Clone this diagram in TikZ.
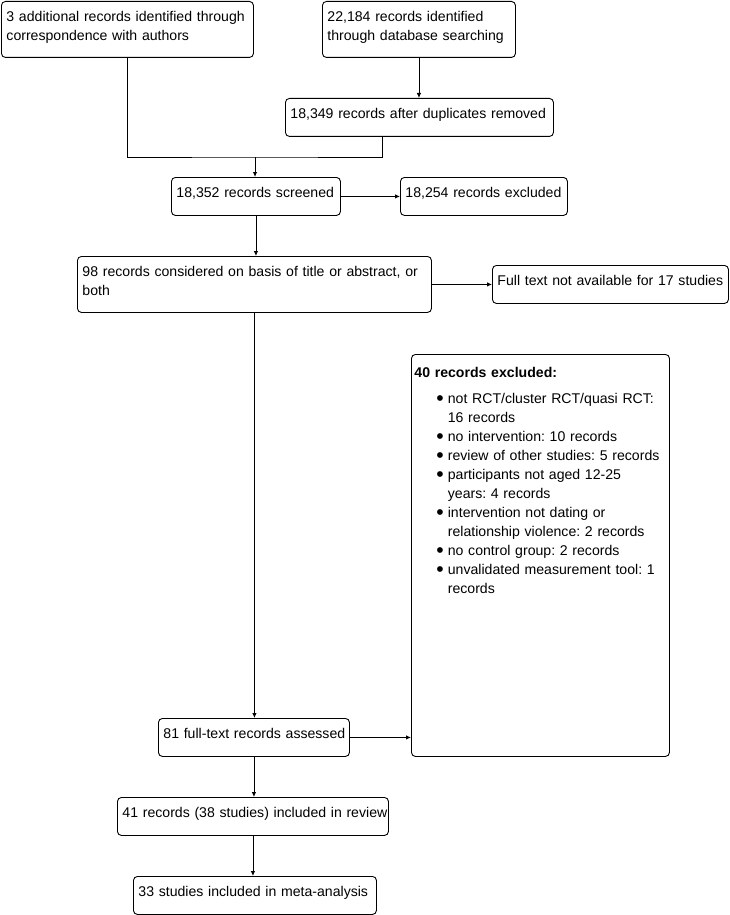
\documentclass[tikz,border=0pt]{standalone}
\usepackage{fontspec}
\setmainfont{Liberation Sans}
\usetikzlibrary{arrows.meta}
\frenchspacing

\begin{document}
\begin{tikzpicture}[
  x=1pt,y=-1pt,>={Latex[length=5pt,width=4.5pt]},
  every node/.style={font=\fontsize{14.1}{18.7}\selectfont},
  stage/.style={draw,line width=0.9pt,rounded corners=4pt,anchor=north west,
    align=left,inner xsep=5pt,inner ysep=0pt,text height=20.5pt,
    execute at begin node={\rightskip=-8pt plus 2em\relax}},
  tall/.style={text depth=35.5pt},
  short/.style={text depth=17.5pt},
  link/.style={line width=0.9pt}
]
  \useasboundingbox (0,0) rectangle (730,915);

  \node[stage,tall,text width=242pt] (extra) at (1,1)
    {3 additional records identified through\\correspondence with authors};
  \node[stage,tall,text width=183pt] (dbase) at (322,1)
    {22,184 records identified\\through database searching};
  \node[stage,short,text width=258pt] (dedup) at (285,98)
    {18,349 records after duplicates removed};
  \node[stage,short,text width=159pt] (screen) at (171,177)
    {18,352 records screened};
  \node[stage,short,text width=157pt] (excl) at (400,177)
    {18,254 records excluded};
  \node[stage,tall,text width=344pt] (consid) at (77,256)
    {98 records considered on basis of title or abstract, or\\both};
  \node[stage,short,text width=226pt] (nofull) at (492,265)
    {Full text not available for 17 studies};
  \node[stage,text width=252pt,inner xsep=3pt,text height=22.7pt,
    text depth=379.3pt,font=\fontsize{14.1}{19}\selectfont] (fullexcl) at (411,354)
    {\begin{tabular}[t]{@{\hspace{22pt}}l@{\hspace{4pt}}l@{}}
      \multicolumn{2}{@{}l}{\bfseries 40 records excluded:}\\[7.5pt]
      \raisebox{-1.5pt}[0pt][0pt]{\scalebox{1.5}{\textbullet}} & not RCT/cluster RCT/quasi RCT:\\
       & 16 records\\
      \raisebox{-1.5pt}[0pt][0pt]{\scalebox{1.5}{\textbullet}} & no intervention: 10 records\\
      \raisebox{-1.5pt}[0pt][0pt]{\scalebox{1.5}{\textbullet}} & review of other studies: 5 records\\
      \raisebox{-1.5pt}[0pt][0pt]{\scalebox{1.5}{\textbullet}} & participants not aged 12-25\\
       & years: 4 records\\
      \raisebox{-1.5pt}[0pt][0pt]{\scalebox{1.5}{\textbullet}} & intervention not dating or\\
       & relationship violence: 2 records\\
      \raisebox{-1.5pt}[0pt][0pt]{\scalebox{1.5}{\textbullet}} & no control group: 2 records\\
      \raisebox{-1.5pt}[0pt][0pt]{\scalebox{1.5}{\textbullet}} & unvalidated measurement tool: 1\\
       & records
    \end{tabular}};
  \node[stage,short,text width=181pt] (assess) at (158,718)
    {81 full-text records assessed};
  \node[stage,short,text width=261pt] (review) at (117,797)
    {41 records (38 studies) included in review};
  \node[stage,short,text width=233pt] (meta) at (133,876)
    {33 studies included in meta-analysis};

  \coordinate (merge) at (255,157);
  \coordinate (dfoot) at ([xshift=-37pt]dedup.south);
  \draw[link] (extra.south) |- (merge) -| (dfoot);
  \draw[link,->] (merge) -- (merge |- screen.north);
  \draw[link,->] (dbase.south) -- (dbase.south |- dedup.north);
  \draw[link,->] (screen.east) -- (excl.west);
  \draw[link,->] (screen.south) -- (screen.south |- consid.north);
  \draw[link,->] (consid.east |- nofull.west) -- (nofull.west);
  \draw[link,->] (consid.south) -- (consid.south |- assess.north);
  \draw[link,->] (assess.east) -- (assess.east -| fullexcl.west);
  \draw[link,->] (assess.south) -- (assess.south |- review.north);
  \draw[link,->] (review.south) -- (review.south |- meta.north);
\end{tikzpicture}
\end{document}
